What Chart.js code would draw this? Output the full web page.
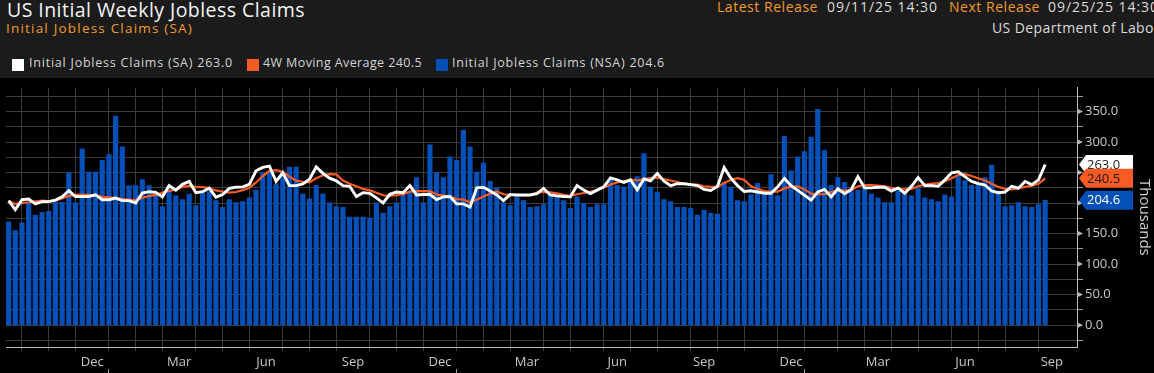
<!DOCTYPE html>
<html>
<head>
<meta charset="utf-8">
<script src="https://cdn.jsdelivr.net/npm/chart.js@4.4.0/dist/chart.umd.min.js"></script>
<style>
html, body { margin: 0; padding: 0; background: #000; width: 1154px; height: 373px; overflow: hidden; font-family: "Open Sans", sans-serif; }
#hdr { position: absolute; left: 0; top: 0; width: 1154px; height: 78px; background: #1b1b1b; overflow: hidden; }
#hdr div { position: absolute; white-space: nowrap; line-height: 1; }
#title { left: 7px; top: -0.5px; font-size: 19.5px; color: #f4f4f4; }
#sub { left: 6px; top: 22px; font-size: 13.5px; color: #f39a2b; }
.rel { top: 0px; font-size: 14px; color: #dcdcdc; }
#src { left: 992px; top: 21px; font-size: 14px; color: #dcdcdc; }
.o { color: #f39a2b !important; }
.leg { top: 57px; font-size: 12.5px; color: #d4d4d4; }
.sw { top: 58.5px; width: 12px; height: 12px; }
#chart { position: absolute; left: 0; top: 78px; }
</style>
</head>
<body>
<div id="hdr">
  <div id="title">US Initial Weekly Jobless Claims</div>
  <div id="sub">Initial Jobless Claims (SA)</div>
  <div class="rel o" id="rel1" style="left:717px">Latest Release</div>
  <div class="rel" id="rel2" style="left:827px">09/11/25 14:30</div>
  <div class="rel o" id="rel3" style="left:949px">Next Release</div>
  <div class="rel" id="rel4" style="left:1048px">09/25/25 14:30</div>
  <div id="src">US Department of Labor</div>
  <div class="sw" style="left:12px;background:#ffffff"></div>
  <div class="leg" id="leg1" style="left:29px"></div>
  <div class="sw" style="left:247px;background:#f95b24"></div>
  <div class="leg" id="leg2" style="left:263px"></div>
  <div class="sw" style="left:436px;background:#0350b9"></div>
  <div class="leg" id="leg3" style="left:452px"></div>
</div>
<canvas id="chart" width="1154" height="295"></canvas>
<script>
// weekly data, one value per week (Friday dated), first week 2022-09-16
const firstWeek = '2022-09-16';

// Initial Jobless Claims NSA (thousands)
const nsaClaims = [
  169.2, 155.0, 167.6, 201.3, 180.2, 185.0, 186.5, 201.3, 201.3, 249.6,
  200.2, 289.0, 250.7, 250.7, 270.1, 279.6, 342.6, 292.2, 228.6, 228.6,
  238.6, 228.6, 211.8, 194.4, 228.6, 211.8, 205.5, 214.9, 196.0, 217.0,
  218.6, 203.9, 192.9, 205.5, 200.7, 202.3, 208.6, 221.2, 249.6, 250.7,
  231.2, 250.7, 259.1, 259.1, 214.9, 207.0, 229.1, 214.9, 200.2, 194.4,
  192.9, 177.1, 177.1, 177.1, 175.5, 200.2, 183.4, 194.4, 200.2, 213.3,
  218.1, 241.7, 200.2, 295.3, 249.6, 241.7, 275.9, 270.1, 319.0, 292.2,
  250.7, 265.4, 235.4, 224.4, 200.7, 196.0, 210.2, 203.9, 192.9, 194.4,
  197.6, 213.3, 210.2, 203.9, 191.3, 210.2, 199.7, 192.9, 197.6, 197.6,
  238.0, 229.1, 226.0, 233.8, 243.3, 281.1, 226.0, 218.1, 205.5, 202.3,
  192.9, 192.9, 191.3, 180.2, 188.1, 183.4, 181.8, 233.8, 226.0, 203.9,
  202.3, 213.3, 232.3, 213.3, 246.5, 211.8, 309.5, 252.8, 275.9, 284.3,
  307.9, 353.7, 285.9, 229.1, 241.7, 233.8, 219.7, 221.2, 224.4, 214.9,
  208.6, 200.7, 200.7, 219.7, 214.9, 211.8, 224.4, 208.6, 205.5, 202.3,
  213.3, 210.2, 243.3, 237.0, 229.1, 230.7, 241.7, 262.2, 219.7, 194.4,
  196.0, 200.7, 194.4, 192.9, 197.6, 204.6
];

// Initial Jobless Claims SA (thousands)
const saClaims = [
  203.9, 189.2, 205.5, 206.5, 198.6, 202.3, 202.3, 204.9, 210.2, 220.2,
  210.7, 210.7, 210.7, 213.3, 205.5, 205.5, 208.1, 203.9, 203.9, 200.2,
  216.5, 218.6, 217.6, 210.2, 228.6, 221.2, 230.7, 235.4, 217.0, 218.6,
  224.4, 209.7, 213.9, 223.9, 226.0, 226.5, 230.7, 252.8, 258.5, 260.6,
  235.4, 249.6, 228.6, 228.6, 231.2, 239.1, 259.1, 248.6, 240.7, 236.5,
  228.6, 227.5, 210.7, 217.0, 216.0, 208.6, 200.2, 214.4, 218.1, 217.0,
  228.6, 213.3, 213.9, 214.4, 205.5, 210.2, 210.7, 198.6, 198.6, 193.4,
  224.9, 226.0, 219.7, 213.3, 203.9, 213.9, 213.3, 213.3, 213.3, 215.4,
  223.9, 213.3, 211.8, 210.7, 210.2, 228.6, 221.2, 215.4, 221.2, 226.5,
  241.2, 238.0, 233.8, 238.0, 221.8, 239.6, 236.5, 248.6, 235.9, 228.6,
  231.7, 231.7, 230.2, 228.6, 222.3, 220.7, 227.5, 258.0, 240.7, 228.6,
  219.1, 220.2, 218.1, 216.0, 216.0, 226.5, 240.4, 228.6, 220.7, 212.8,
  204.9, 218.1, 222.3, 210.2, 223.3, 215.4, 222.3, 243.3, 224.9, 224.9,
  226.0, 226.0, 219.7, 224.9, 216.0, 227.5, 241.7, 228.6, 228.6, 227.5,
  238.0, 249.6, 251.2, 243.3, 235.4, 231.7, 229.6, 219.7, 217.0, 218.1,
  227.5, 224.4, 235.4, 230.2, 238.0, 263.0
];

// 4W moving average (thousands)
const movingAvg = [
  204.0, 198.6, 200.0, 201.3, 203.0, 203.9, 203.4, 204.4, 207.6, 211.8,
  213.3, 213.8, 213.3, 212.8, 210.2, 209.2, 208.1, 206.5, 205.5, 204.4,
  208.6, 211.3, 213.3, 217.0, 219.7, 221.8, 226.5, 228.0, 226.5, 226.0,
  224.4, 220.7, 218.6, 217.0, 218.1, 221.2, 224.9, 233.8, 244.3, 252.8,
  253.8, 251.2, 243.3, 236.5, 234.9, 233.8, 240.7, 245.4, 247.5, 247.0,
  237.0, 231.7, 227.5, 223.3, 220.7, 217.0, 212.8, 211.8, 212.8, 214.4,
  218.6, 219.7, 219.7, 219.7, 213.9, 212.8, 210.7, 206.5, 205.5, 201.3,
  205.5, 210.7, 215.4, 219.1, 214.4, 213.3, 212.8, 213.0, 213.0, 217.0,
  218.1, 217.6, 216.0, 213.3, 211.8, 214.4, 216.5, 218.6, 221.2, 226.0,
  230.2, 233.8, 235.4, 238.0, 237.0, 239.1, 240.7, 241.7, 239.1, 237.0,
  234.4, 231.7, 230.7, 230.2, 227.5, 226.5, 226.5, 232.8, 238.0, 240.7,
  238.0, 227.5, 223.3, 219.7, 218.6, 218.6, 224.0, 227.0, 227.5, 222.3,
  215.4, 214.4, 214.4, 218.1, 220.7, 220.2, 221.2, 227.5, 229.6, 229.6,
  228.6, 227.5, 224.9, 223.3, 222.3, 223.3, 227.5, 230.2, 231.7, 232.8,
  235.4, 240.7, 245.9, 247.5, 244.3, 240.7, 237.0, 231.7, 226.5, 223.3,
  222.3, 223.9, 226.5, 228.6, 231.7, 240.5
];

const yTickValues = [-25, 0, 25, 50, 75, 100, 125, 150, 175, 200, 225, 250, 275, 300, 325, 350, 375];
const monthNames = ['Jan', 'Feb', 'Mar', 'Apr', 'May', 'Jun', 'Jul', 'Aug', 'Sep', 'Oct', 'Nov', 'Dec'];
const labelledMonths = ['Dec', 'Mar', 'Jun', 'Sep'];

const seriesNames = ['Initial Jobless Claims (SA)', '4W Moving Average', 'Initial Jobless Claims (NSA)'];

// ---- colours / layout ----
const white = '#ffffff';
const orange = '#f95b24';
const blue = '#0350b9';
const gridColor = '#3c3c3c';
const axisColor = '#bdbdbd';
const labelColor = '#c8c8c8';
const fontFamily = '"Open Sans", sans-serif';
const xMin = -0.39, xMax = 159.76;
const yMin = -35.8, yMax = 388.8;

document.getElementById('leg1').textContent = seriesNames[0] + ' ' + saClaims[saClaims.length - 1].toFixed(1);
document.getElementById('leg2').textContent = seriesNames[1] + ' ' + movingAvg[movingAvg.length - 1].toFixed(1);
document.getElementById('leg3').textContent = seriesNames[2] + ' ' + nsaClaims[nsaClaims.length - 1].toFixed(1);

// stretch header texts to the widths seen in the terminal font
function fitText(id, target) {
    const el = document.getElementById(id);
    el.style.letterSpacing = '0px';
    const w = el.getBoundingClientRect().width;
    el.style.letterSpacing = ((target - w) / el.textContent.length) + 'px';
}
fitText('title', 298);
fitText('sub', 187);
fitText('rel1', 101);
fitText('rel2', 111);
fitText('rel3', 91);
fitText('rel4', 111);
fitText('src', 168);
fitText('leg1', 204);
fitText('leg2', 159);
fitText('leg3', 213);

// week index -> date
const DAY = 86400000;
const start = Date.parse(firstWeek + 'T00:00:00Z');
function weekDate(i) { return new Date(start + i * 7 * DAY); }

// month boundaries sit on the last week of the previous month
const bounds = [];
const yearBounds = [];
for (let i = -10; i < nsaClaims.length + 10; i++) {
    const a = weekDate(i), b = weekDate(i + 1);
    if (a.getUTCMonth() != b.getUTCMonth()) bounds.push({ at: i, month: b.getUTCMonth() });
    if (a.getUTCFullYear() != b.getUTCFullYear()) yearBounds.push({ at: i, year: b.getUTCFullYear() });
}

const monthTicks = [];
bounds.forEach((bd, k) => {
    if (bd.at >= 0 && bd.at < nsaClaims.length) monthTicks.push({ value: bd.at, grid: true, lbl: '' });
    const next = bounds[k + 1];
    if (!next) return;
    const name = monthNames[bd.month];
    const mid = (bd.at + next.at) / 2;
    if (labelledMonths.includes(name) && mid > xMin && mid < xMax) monthTicks.push({ value: mid, grid: false, lbl: name });
});
monthTicks.sort((a, b) => a.value - b.value);

const yearTicks = [];
const inside = yearBounds.filter(b => b.at > xMin && b.at < xMax);
let prevEdge = xMin, prevYear = weekDate(0).getUTCFullYear();
inside.forEach(b => {
    yearTicks.push({ value: (prevEdge + b.at) / 2, mark: false, lbl: String(prevYear) });
    yearTicks.push({ value: b.at, mark: true, lbl: '' });
    prevEdge = b.at;
    prevYear = b.year;
});
yearTicks.push({ value: (prevEdge + xMax) / 2, mark: false, lbl: String(prevYear) });
yearTicks.sort((a, b) => a.value - b.value);

const toPoints = arr => arr.map((v, i) => ({ x: i, y: v }));

// value tags on the right axis + arrow marks on major y ticks
const axisMarks = {
    id: 'axisMarks',
    afterDraw(chart) {
        const ctx = chart.ctx;
        const ys = chart.scales.y;
        const right = chart.chartArea.right;
        ctx.save();
        ctx.fillStyle = '#b4b4b4';
        yTickValues.forEach(v => {
            if (v % 50 !== 0 || v < 0) return;
            const p = ys.getPixelForValue(v);
            ctx.beginPath();
            ctx.moveTo(right, p - 3);
            ctx.lineTo(right + 6, p);
            ctx.lineTo(right, p + 3);
            ctx.closePath();
            ctx.fill();
        });
        const tags = [
            { v: saClaims[saClaims.length - 1], fill: white, text: '#1a1a1a' },
            { v: movingAvg[movingAvg.length - 1], fill: orange, text: '#1a1a1a' },
            { v: nsaClaims[nsaClaims.length - 1], fill: blue, text: '#ffffff' }
        ];
        ctx.font = '13px ' + fontFamily;
        ctx.textBaseline = 'middle';
        tags.forEach(t => {
            const p = ys.getPixelForValue(t.v);
            const x0 = right + 2;
            ctx.fillStyle = t.fill;
            ctx.beginPath();
            ctx.moveTo(x0, p);
            ctx.lineTo(x0 + 7, p - 9.5);
            ctx.lineTo(right + 56, p - 9.5);
            ctx.lineTo(right + 56, p + 9.5);
            ctx.lineTo(x0 + 7, p + 9.5);
            ctx.closePath();
            ctx.fill();
            ctx.fillStyle = t.text;
            ctx.fillText(t.v.toFixed(1), right + 10, p + 0.5);
        });
        ctx.restore();
    }
};

const chart = new Chart(document.getElementById('chart'), {
    data: {
        datasets: [
            {
                type: 'line',
                label: seriesNames[0],
                data: toPoints(saClaims),
                borderColor: white,
                borderWidth: 2.9,
                pointRadius: 0,
                tension: 0,
                order: 0
            },
            {
                type: 'line',
                label: seriesNames[1],
                data: toPoints(movingAvg),
                borderColor: orange,
                borderWidth: 2.2,
                pointRadius: 0,
                tension: 0,
                order: 1
            },
            {
                type: 'bar',
                label: seriesNames[2],
                data: toPoints(nsaClaims),
                backgroundColor: blue,
                barThickness: 4.5,
                order: 2
            }
        ]
    },
    options: {
        responsive: false,
        animation: false,
        events: [],
        layout: { padding: { left: 6, top: 0, right: 0, bottom: 0 } },
        plugins: {
            legend: { display: false },
            tooltip: { enabled: false }
        },
        scales: {
            x: {
                type: 'linear',
                position: 'bottom',
                min: xMin,
                max: xMax,
                offset: false,
                weight: 0,
                afterBuildTicks: s => { s.ticks = monthTicks.map(t => ({ value: t.value, grid: t.grid, lbl: t.lbl })); },
                afterFit: s => { s.height = 22; },
                grid: {
                    offset: false,
                    color: c => (c.tick && c.tick.grid) ? gridColor : 'transparent',
                    tickColor: c => (c.tick && c.tick.grid) ? gridColor : 'transparent',
                    tickLength: 4
                },
                border: { color: axisColor },
                ticks: {
                    autoSkip: false,
                    maxRotation: 0,
                    padding: 3,
                    color: labelColor,
                    font: { family: fontFamily, size: 13 },
                    callback: (v, i, ticks) => ticks[i].lbl || ''
                }
            },
            xy: {
                type: 'linear',
                position: 'bottom',
                min: xMin,
                max: xMax,
                offset: false,
                weight: 1,
                afterBuildTicks: s => { s.ticks = yearTicks.map(t => ({ value: t.value, mark: t.mark, lbl: t.lbl })); },
                afterFit: s => { s.height = 4; },
                grid: {
                    offset: false,
                    drawOnChartArea: false,
                    color: c => (c.tick && c.tick.mark) ? '#9a9a9a' : 'transparent',
                    tickColor: c => (c.tick && c.tick.mark) ? '#9a9a9a' : 'transparent',
                    tickLength: 6
                },
                border: { display: false },
                ticks: {
                    autoSkip: false,
                    maxRotation: 0,
                    padding: 0,
                    color: labelColor,
                    font: { family: fontFamily, size: 13 },
                    callback: (v, i, ticks) => ticks[i].lbl || ''
                }
            },
            y: {
                type: 'linear',
                position: 'right',
                min: yMin,
                max: yMax,
                afterBuildTicks: s => { s.ticks = yTickValues.map(v => ({ value: v })); },
                afterFit: s => { s.width = 77; },
                grid: {
                    color: gridColor,
                    tickLength: 6,
                    tickColor: c => (c.tick && c.tick.value % 50 !== 0) ? '#9a9a9a' : 'transparent'
                },
                border: { color: axisColor },
                ticks: {
                    autoSkip: false,
                    padding: 2,
                    color: labelColor,
                    font: { family: fontFamily, size: 13 },
                    callback: v => (v % 50 === 0 && v >= 0) ? v.toFixed(1) : ''
                },
                title: {
                    display: true,
                    text: 'Thousands',
                    color: '#d0d0d0',
                    font: { family: fontFamily, size: 15 },
                    padding: 1
                }
            }
        }
    },
    plugins: [axisMarks]
});
</script>
</body>
</html>
